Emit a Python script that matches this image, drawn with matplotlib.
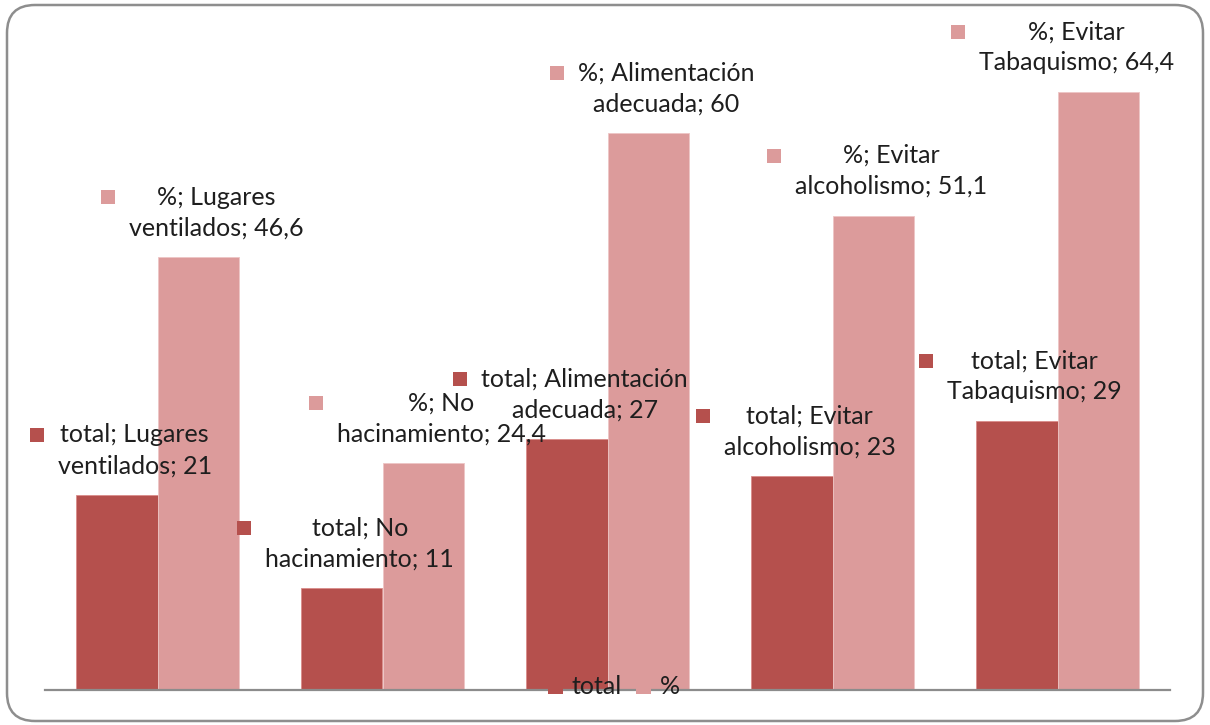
import numpy as np
import matplotlib
matplotlib.use("Agg")
import matplotlib.pyplot as plt
from matplotlib.patches import Rectangle, FancyBboxPatch, Patch
from matplotlib.transforms import IdentityTransform

# Data
categories = ["Lugares ventilados", "No hacinamiento", "Alimentación adecuada",
              "Evitar alcoholismo", "Evitar Tabaquismo"]
label_lines = [("Lugares", "ventilados"), ("No", "hacinamiento"),
               ("Alimentación", "adecuada"), ("Evitar", "alcoholismo"),
               ("Evitar", "Tabaquismo")]
series_names = ["total", "%"]
total_values = [21, 11, 27, 23, 29]
pct_values = [46.6, 24.4, 60, 51.1, 64.4]

C_TOTAL = "#B5504D"
C_PCT = "#DC9B9B"
TEXT_C = "#1E1E1E"
FONT = "Lato"
FS = 18

W, H, DPI = 1210, 725, 100
fig = plt.figure(figsize=(W / DPI, H / DPI), dpi=DPI)
ax = fig.add_axes([45 / W, 1 - 690 / H, 1125 / W, 650 / H])

x = np.arange(len(categories))
bw = 0.362
bars_total = ax.bar(x - bw / 2, total_values, bw, color=C_TOTAL,
                    edgecolor="#D98C8A", linewidth=0.6, zorder=2)
bars_pct = ax.bar(x + bw / 2, pct_values, bw, color=C_PCT,
                  edgecolor="#EDC5C5", linewidth=0.6, zorder=2)

ax.set_xlim(-0.5, 4.5)
ax.set_ylim(0, 70)
for s in ["left", "right", "top"]:
    ax.spines[s].set_visible(False)
ax.spines["bottom"].set_color("#8C8C8C")
ax.spines["bottom"].set_linewidth(1.6)
ax.set_xticks([])
ax.set_yticks([])


def fmt(v):
    return (f"{v:g}").replace(".", ",")


# Data labels: two lines centred above each bar, with a legend key on the left
labels = []
for bars, name, vals, color in [(bars_total, "total", total_values, C_TOTAL),
                                (bars_pct, "%", pct_values, C_PCT)]:
    for i, b in enumerate(bars):
        xc = b.get_x() + b.get_width() / 2
        top = vals[i]
        l1 = f"{name}; {label_lines[i][0]}"
        l2 = f"{label_lines[i][1]}; {fmt(vals[i])}"
        t1 = ax.annotate(l1, (xc, top), xytext=(18, 60), textcoords="offset pixels",
                         ha="center", va="center", fontsize=FS, family=FONT,
                         color=TEXT_C, zorder=4, annotation_clip=False)
        t2 = ax.annotate(l2, (xc, top), xytext=(18, 29), textcoords="offset pixels",
                         ha="center", va="center", fontsize=FS, family=FONT,
                         color=TEXT_C, zorder=4, annotation_clip=False)
        labels.append((t1, t2, color))

fig.canvas.draw()
renderer = fig.canvas.get_renderer()
right_limit = 1174
for t1, t2, color in labels:
    e1 = t1.get_window_extent(renderer)
    e2 = t2.get_window_extent(renderer)
    right = max(e1.x1, e2.x1)
    if right > right_limit:
        shift = right - right_limit
        for t in (t1, t2):
            ox, oy = t.xyann
            t.xyann = (ox - shift, oy)
        e1 = t1.get_window_extent(renderer)
        e2 = t2.get_window_extent(renderer)
    left = min(e1.x0, e2.x0)
    ymid = (e1.y0 + e1.y1) / 2
    mk = Rectangle((left - 28, ymid - 7), 14, 14, facecolor=color,
                   edgecolor="none", transform=IdentityTransform(), zorder=5)
    fig.add_artist(mk)

# Legend
handles = [Patch(facecolor=C_TOTAL, edgecolor="none"),
           Patch(facecolor=C_PCT, edgecolor="none")]
fig.legend(handles, series_names, loc="center", bbox_to_anchor=(614 / W, 1 - 687 / H),
           ncol=2, frameon=False, handlelength=0.6, handleheight=0.6,
           handletextpad=0.35, columnspacing=0.55, borderpad=0,
           prop={"family": FONT, "size": FS}, labelcolor=TEXT_C)

# Rounded chart border
frame = FancyBboxPatch((7, 4), 1196, 716, boxstyle="round,pad=0,rounding_size=28",
                       facecolor="none", edgecolor="#8E8E8E", linewidth=1.8,
                       transform=IdentityTransform(), zorder=10)
fig.add_artist(frame)

fig.savefig("out.png", dpi=DPI)
